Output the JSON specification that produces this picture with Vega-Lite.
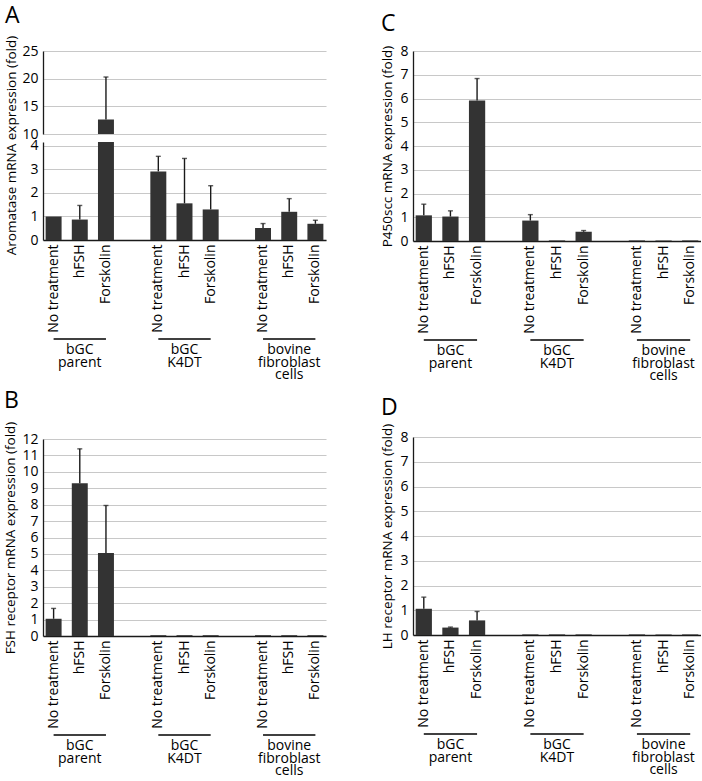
{
  "$schema": "https://vega.github.io/schema/vega-lite/v6.json",
  "padding": {"left": 3, "top": 5, "right": 0, "bottom": 0},
  "config": {
    "view": {"stroke": null},
    "font": "Open Sans",
    "axis": {"labelFont": "Open Sans", "titleFont": "Open Sans", "labelColor": "#000", "titleColor": "#000", "titleFontWeight": "normal", "titleFontSize": 13.5, "domainColor": "#1a1a1a", "domainWidth": 1.3, "gridColor": "#c8c8c8", "gridWidth": 1.2, "ticks": false, "labelOverlap": false},
    "title": {"fontSize": 23, "fontWeight": "normal", "anchor": "start", "font": "Open Sans", "color": "#000"}
  },
  "datasets": {
    "A": [
      {"key": "bGC parent|No treatment", "value": 1.0, "upper": 1.0},
      {"key": "bGC parent|hFSH", "value": 0.87, "upper": 1.47},
      {"key": "bGC parent|Forskolin", "value": 12.6, "upper": 20.3},
      {"key": "bGC K4DT|No treatment", "value": 2.92, "upper": 3.56},
      {"key": "bGC K4DT|hFSH", "value": 1.56, "upper": 3.47},
      {"key": "bGC K4DT|Forskolin", "value": 1.3, "upper": 2.31},
      {"key": "bovine fibroblast cells|No treatment", "value": 0.51, "upper": 0.7},
      {"key": "bovine fibroblast cells|hFSH", "value": 1.2, "upper": 1.76},
      {"key": "bovine fibroblast cells|Forskolin", "value": 0.69, "upper": 0.84}
    ],
    "B": [
      {"key": "bGC parent|No treatment", "value": 1.05, "upper": 1.68},
      {"key": "bGC parent|hFSH", "value": 9.31, "upper": 11.4},
      {"key": "bGC parent|Forskolin", "value": 5.05, "upper": 7.95},
      {"key": "bGC K4DT|No treatment", "value": 0.05, "upper": 0.05},
      {"key": "bGC K4DT|hFSH", "value": 0.05, "upper": 0.05},
      {"key": "bGC K4DT|Forskolin", "value": 0.05, "upper": 0.05},
      {"key": "bovine fibroblast cells|No treatment", "value": 0.05, "upper": 0.05},
      {"key": "bovine fibroblast cells|hFSH", "value": 0.05, "upper": 0.05},
      {"key": "bovine fibroblast cells|Forskolin", "value": 0.05, "upper": 0.05}
    ],
    "C": [
      {"key": "bGC parent|No treatment", "value": 1.08, "upper": 1.55},
      {"key": "bGC parent|hFSH", "value": 1.03, "upper": 1.27},
      {"key": "bGC parent|Forskolin", "value": 5.92, "upper": 6.84},
      {"key": "bGC K4DT|No treatment", "value": 0.86, "upper": 1.11},
      {"key": "bGC K4DT|hFSH", "value": 0.025, "upper": 0.025},
      {"key": "bGC K4DT|Forskolin", "value": 0.39, "upper": 0.44},
      {"key": "bovine fibroblast cells|No treatment", "value": 0.025, "upper": 0.025},
      {"key": "bovine fibroblast cells|hFSH", "value": 0.025, "upper": 0.025},
      {"key": "bovine fibroblast cells|Forskolin", "value": 0.025, "upper": 0.025}
    ],
    "D": [
      {"key": "bGC parent|No treatment", "value": 1.06, "upper": 1.53},
      {"key": "bGC parent|hFSH", "value": 0.3, "upper": 0.32},
      {"key": "bGC parent|Forskolin", "value": 0.59, "upper": 0.95},
      {"key": "bGC K4DT|No treatment", "value": 0.025, "upper": 0.025},
      {"key": "bGC K4DT|hFSH", "value": 0.025, "upper": 0.025},
      {"key": "bGC K4DT|Forskolin", "value": 0.025, "upper": 0.025},
      {"key": "bovine fibroblast cells|No treatment", "value": 0.025, "upper": 0.025},
      {"key": "bovine fibroblast cells|hFSH", "value": 0.025, "upper": 0.025},
      {"key": "bovine fibroblast cells|Forskolin", "value": 0.025, "upper": 0.025}
    ],
    "groups": [
      {"label": "bGC\nparent", "start": "bGC parent|No treatment", "mid": "bGC parent|hFSH", "end": "bGC parent|Forskolin"},
      {"label": "bGC\nK4DT", "start": "bGC K4DT|No treatment", "mid": "bGC K4DT|hFSH", "end": "bGC K4DT|Forskolin"},
      {"label": "bovine\nfibroblast\ncells", "start": "bovine fibroblast cells|No treatment", "mid": "bovine fibroblast cells|hFSH", "end": "bovine fibroblast cells|Forskolin"}
    ]
  },
  "spacing": 54,
  "hconcat": [
    {
      "spacing": 7,
      "vconcat": [
        {
          "title": {"text": "A", "offset": 7},
          "spacing": 5,
          "vconcat": [
            {
              "spacing": 8,
              "bounds": "flush",
              "vconcat": [
                {
                  "width": 283, "height": 83,
                  "data": {"name": "A"},
                  "encoding": {
                    "x": {"field": "key", "type": "nominal", "scale": {"domain": ["bGC parent|No treatment", "bGC parent|hFSH", "bGC parent|Forskolin", "gap1|", "bGC K4DT|No treatment", "bGC K4DT|hFSH", "bGC K4DT|Forskolin", "gap2|", "bovine fibroblast cells|No treatment", "bovine fibroblast cells|hFSH", "bovine fibroblast cells|Forskolin"], "paddingInner": 0.39, "paddingOuter": 0.1}, "axis": null},
                    "y": {"field": "value", "type": "quantitative", "scale": {"domain": [10, 25], "nice": false, "zero": false}, "axis": {"values": [10, 15, 20, 25], "title": null, "labelFontSize": 14, "labelPadding": 5}}
                  },
                  "layer": [
                    {
                      "transform": [{"filter": "datum.value > 10"}],
                      "mark": {"type": "bar", "color": "#333333", "clip": true}
                    },
                    {
                      "transform": [{"filter": "datum.upper > 10"}],
                      "mark": {"type": "rule", "color": "#1a1a1a", "strokeWidth": 1.4, "clip": true},
                      "encoding": {"y2": {"field": "upper"}}
                    },
                    {
                      "transform": [{"filter": "datum.upper > 10"}],
                      "mark": {"type": "tick", "color": "#1a1a1a", "thickness": 1.4, "size": 5, "clip": true},
                      "encoding": {"y": {"field": "upper", "type": "quantitative", "scale": {"domain": [10, 25], "nice": false, "zero": false}, "axis": {"values": [10, 15, 20, 25], "title": null, "labelFontSize": 14, "labelPadding": 5}}}
                    }
                  ]
                },
                {
                  "width": 283, "height": 98,
                  "data": {"name": "A"},
                  "encoding": {
                    "x": {"field": "key", "type": "nominal", "scale": {"domain": ["bGC parent|No treatment", "bGC parent|hFSH", "bGC parent|Forskolin", "gap1|", "bGC K4DT|No treatment", "bGC K4DT|hFSH", "bGC K4DT|Forskolin", "gap2|", "bovine fibroblast cells|No treatment", "bovine fibroblast cells|hFSH", "bovine fibroblast cells|Forskolin"], "paddingInner": 0.39, "paddingOuter": 0.1}, "axis": {"title": null, "labelAngle": -90, "labelExpr": "split(datum.value, '|')[1]", "labelFontSize": 14, "labelPadding": 4}},
                    "y": {"field": "value", "type": "quantitative", "scale": {"domain": [0, 4.17], "nice": false}, "axis": {"values": [0, 1, 2, 3, 4], "title": "Aromatase mRNA expression (fold)", "titleY": 3, "titlePadding": 11, "labelFontSize": 14, "labelPadding": 5}}
                  },
                  "layer": [
                    {
                      "mark": {"type": "bar", "color": "#333333", "clip": true}
                    },
                    {
                      "transform": [{"filter": "datum.upper > datum.value"}],
                      "mark": {"type": "rule", "color": "#1a1a1a", "strokeWidth": 1.4, "clip": true},
                      "encoding": {"y2": {"field": "upper"}}
                    },
                    {
                      "transform": [{"filter": "datum.upper > datum.value"}],
                      "mark": {"type": "tick", "color": "#1a1a1a", "thickness": 1.4, "size": 5, "clip": true},
                      "encoding": {"y": {"field": "upper", "type": "quantitative", "scale": {"domain": [0, 4.17], "nice": false}, "axis": {"values": [0, 1, 2, 3, 4], "title": "Aromatase mRNA expression (fold)", "titleY": 3, "titlePadding": 11, "labelFontSize": 14, "labelPadding": 5}}}
                    }
                  ]
                }
              ]
            },
            {
              "width": 283, "height": 40,
              "data": {"name": "groups"},
              "layer": [
                {
                  "mark": {"type": "rule", "color": "#000", "strokeWidth": 1.4},
                  "encoding": {
                    "x": {"field": "start", "type": "nominal", "scale": {"domain": ["bGC parent|No treatment", "bGC parent|hFSH", "bGC parent|Forskolin", "gap1|", "bGC K4DT|No treatment", "bGC K4DT|hFSH", "bGC K4DT|Forskolin", "gap2|", "bovine fibroblast cells|No treatment", "bovine fibroblast cells|hFSH", "bovine fibroblast cells|Forskolin"], "paddingInner": 0.39, "paddingOuter": 0.1}, "axis": null},
                    "x2": {"field": "end"},
                    "y": {"datum": 1, "type": "quantitative", "scale": {"domain": [0, 1]}, "axis": null}
                  }
                },
                {
                  "mark": {"type": "text", "baseline": "top", "lineBreak": "\n", "fontSize": 14, "lineHeight": 12.5, "color": "#000"},
                  "encoding": {
                    "x": {"field": "mid", "type": "nominal"},
                    "y": {"datum": 0.89, "type": "quantitative"},
                    "text": {"field": "label"}
                  }
                }
              ]
            }
          ]
        },
        {
          "title": {"text": "B", "offset": 8},
          "spacing": 5,
          "vconcat": [
            {
              "width": 283, "height": 197,
              "data": {"name": "B"},
              "encoding": {
                "x": {"field": "key", "type": "nominal", "scale": {"domain": ["bGC parent|No treatment", "bGC parent|hFSH", "bGC parent|Forskolin", "gap1|", "bGC K4DT|No treatment", "bGC K4DT|hFSH", "bGC K4DT|Forskolin", "gap2|", "bovine fibroblast cells|No treatment", "bovine fibroblast cells|hFSH", "bovine fibroblast cells|Forskolin"], "paddingInner": 0.39, "paddingOuter": 0.1}, "axis": {"title": null, "labelAngle": -90, "labelExpr": "split(datum.value, '|')[1]", "labelFontSize": 14, "labelPadding": 4}},
                "y": {"field": "value", "type": "quantitative", "scale": {"domain": [0, 12], "nice": false}, "axis": {"values": [0, 1, 2, 3, 4, 5, 6, 7, 8, 9, 10, 11, 12], "title": "FSH receptor mRNA expression (fold)", "titlePadding": 4, "labelFontSize": 14, "labelPadding": 5}}
              },
              "layer": [
                {
                  "mark": {"type": "bar", "color": "#333333"}
                },
                {
                  "transform": [{"filter": "datum.upper > datum.value"}],
                  "mark": {"type": "rule", "color": "#1a1a1a", "strokeWidth": 1.4},
                  "encoding": {"y2": {"field": "upper"}}
                },
                {
                  "transform": [{"filter": "datum.upper > datum.value"}],
                  "mark": {"type": "tick", "color": "#1a1a1a", "thickness": 1.4, "size": 5},
                  "encoding": {"y": {"field": "upper", "type": "quantitative", "scale": {"domain": [0, 12], "nice": false}, "axis": {"values": [0, 1, 2, 3, 4, 5, 6, 7, 8, 9, 10, 11, 12], "title": "FSH receptor mRNA expression (fold)", "titlePadding": 4, "labelFontSize": 14, "labelPadding": 5}}}
                }
              ]
            },
            {
              "width": 283, "height": 40,
              "data": {"name": "groups"},
              "layer": [
                {
                  "mark": {"type": "rule", "color": "#000", "strokeWidth": 1.4},
                  "encoding": {
                    "x": {"field": "start", "type": "nominal", "scale": {"domain": ["bGC parent|No treatment", "bGC parent|hFSH", "bGC parent|Forskolin", "gap1|", "bGC K4DT|No treatment", "bGC K4DT|hFSH", "bGC K4DT|Forskolin", "gap2|", "bovine fibroblast cells|No treatment", "bovine fibroblast cells|hFSH", "bovine fibroblast cells|Forskolin"], "paddingInner": 0.39, "paddingOuter": 0.1}, "axis": null},
                    "x2": {"field": "end"},
                    "y": {"datum": 1, "type": "quantitative", "scale": {"domain": [0, 1]}, "axis": null}
                  }
                },
                {
                  "mark": {"type": "text", "baseline": "top", "lineBreak": "\n", "fontSize": 14, "lineHeight": 12.5, "color": "#000"},
                  "encoding": {
                    "x": {"field": "mid", "type": "nominal"},
                    "y": {"datum": 0.89, "type": "quantitative"},
                    "text": {"field": "label"}
                  }
                }
              ]
            }
          ]
        }
      ]
    },
    {
      "spacing": 13,
      "vconcat": [
        {
          "title": {"text": "C", "offset": 8},
          "spacing": 5,
          "vconcat": [
            {
              "width": 288, "height": 190,
              "data": {"name": "C"},
              "encoding": {
                "x": {"field": "key", "type": "nominal", "scale": {"domain": ["bGC parent|No treatment", "bGC parent|hFSH", "bGC parent|Forskolin", "gap1|", "bGC K4DT|No treatment", "bGC K4DT|hFSH", "bGC K4DT|Forskolin", "gap2|", "bovine fibroblast cells|No treatment", "bovine fibroblast cells|hFSH", "bovine fibroblast cells|Forskolin"], "paddingInner": 0.39, "paddingOuter": 0.1}, "axis": {"title": null, "labelAngle": -90, "labelExpr": "split(datum.value, '|')[1]", "labelFontSize": 14, "labelPadding": 4}},
                "y": {"field": "value", "type": "quantitative", "scale": {"domain": [0, 8], "nice": false}, "axis": {"values": [0, 1, 2, 3, 4, 5, 6, 7, 8], "title": "P450scc mRNA expression (fold)", "titlePadding": 5, "labelFontSize": 14, "labelPadding": 5}}
              },
              "layer": [
                {
                  "mark": {"type": "bar", "color": "#333333"}
                },
                {
                  "transform": [{"filter": "datum.upper > datum.value"}],
                  "mark": {"type": "rule", "color": "#1a1a1a", "strokeWidth": 1.4},
                  "encoding": {"y2": {"field": "upper"}}
                },
                {
                  "transform": [{"filter": "datum.upper > datum.value"}],
                  "mark": {"type": "tick", "color": "#1a1a1a", "thickness": 1.4, "size": 5},
                  "encoding": {"y": {"field": "upper", "type": "quantitative", "scale": {"domain": [0, 8], "nice": false}, "axis": {"values": [0, 1, 2, 3, 4, 5, 6, 7, 8], "title": "P450scc mRNA expression (fold)", "titlePadding": 5, "labelFontSize": 14, "labelPadding": 5}}}
                }
              ]
            },
            {
              "width": 288, "height": 40,
              "data": {"name": "groups"},
              "layer": [
                {
                  "mark": {"type": "rule", "color": "#000", "strokeWidth": 1.4},
                  "encoding": {
                    "x": {"field": "start", "type": "nominal", "scale": {"domain": ["bGC parent|No treatment", "bGC parent|hFSH", "bGC parent|Forskolin", "gap1|", "bGC K4DT|No treatment", "bGC K4DT|hFSH", "bGC K4DT|Forskolin", "gap2|", "bovine fibroblast cells|No treatment", "bovine fibroblast cells|hFSH", "bovine fibroblast cells|Forskolin"], "paddingInner": 0.39, "paddingOuter": 0.1}, "axis": null},
                    "x2": {"field": "end"},
                    "y": {"datum": 1, "type": "quantitative", "scale": {"domain": [0, 1]}, "axis": null}
                  }
                },
                {
                  "mark": {"type": "text", "baseline": "top", "lineBreak": "\n", "fontSize": 14, "lineHeight": 12.5, "color": "#000"},
                  "encoding": {
                    "x": {"field": "mid", "type": "nominal"},
                    "y": {"datum": 0.89, "type": "quantitative"},
                    "text": {"field": "label"}
                  }
                }
              ]
            }
          ]
        },
        {
          "title": {"text": "D", "offset": 3},
          "spacing": 5,
          "vconcat": [
            {
              "width": 288, "height": 198,
              "data": {"name": "D"},
              "encoding": {
                "x": {"field": "key", "type": "nominal", "scale": {"domain": ["bGC parent|No treatment", "bGC parent|hFSH", "bGC parent|Forskolin", "gap1|", "bGC K4DT|No treatment", "bGC K4DT|hFSH", "bGC K4DT|Forskolin", "gap2|", "bovine fibroblast cells|No treatment", "bovine fibroblast cells|hFSH", "bovine fibroblast cells|Forskolin"], "paddingInner": 0.39, "paddingOuter": 0.1}, "axis": {"title": null, "labelAngle": -90, "labelExpr": "split(datum.value, '|')[1]", "labelFontSize": 14, "labelPadding": 4}},
                "y": {"field": "value", "type": "quantitative", "scale": {"domain": [0, 8], "nice": false}, "axis": {"values": [0, 1, 2, 3, 4, 5, 6, 7, 8], "title": "LH receptor mRNA expression (fold)", "titlePadding": 5, "labelFontSize": 14, "labelPadding": 5}}
              },
              "layer": [
                {
                  "mark": {"type": "bar", "color": "#333333"}
                },
                {
                  "transform": [{"filter": "datum.upper > datum.value"}],
                  "mark": {"type": "rule", "color": "#1a1a1a", "strokeWidth": 1.4},
                  "encoding": {"y2": {"field": "upper"}}
                },
                {
                  "transform": [{"filter": "datum.upper > datum.value"}],
                  "mark": {"type": "tick", "color": "#1a1a1a", "thickness": 1.4, "size": 5},
                  "encoding": {"y": {"field": "upper", "type": "quantitative", "scale": {"domain": [0, 8], "nice": false}, "axis": {"values": [0, 1, 2, 3, 4, 5, 6, 7, 8], "title": "LH receptor mRNA expression (fold)", "titlePadding": 5, "labelFontSize": 14, "labelPadding": 5}}}
                }
              ]
            },
            {
              "width": 288, "height": 40,
              "data": {"name": "groups"},
              "layer": [
                {
                  "mark": {"type": "rule", "color": "#000", "strokeWidth": 1.4},
                  "encoding": {
                    "x": {"field": "start", "type": "nominal", "scale": {"domain": ["bGC parent|No treatment", "bGC parent|hFSH", "bGC parent|Forskolin", "gap1|", "bGC K4DT|No treatment", "bGC K4DT|hFSH", "bGC K4DT|Forskolin", "gap2|", "bovine fibroblast cells|No treatment", "bovine fibroblast cells|hFSH", "bovine fibroblast cells|Forskolin"], "paddingInner": 0.39, "paddingOuter": 0.1}, "axis": null},
                    "x2": {"field": "end"},
                    "y": {"datum": 1, "type": "quantitative", "scale": {"domain": [0, 1]}, "axis": null}
                  }
                },
                {
                  "mark": {"type": "text", "baseline": "top", "lineBreak": "\n", "fontSize": 14, "lineHeight": 12.5, "color": "#000"},
                  "encoding": {
                    "x": {"field": "mid", "type": "nominal"},
                    "y": {"datum": 0.89, "type": "quantitative"},
                    "text": {"field": "label"}
                  }
                }
              ]
            }
          ]
        }
      ]
    }
  ]
}
